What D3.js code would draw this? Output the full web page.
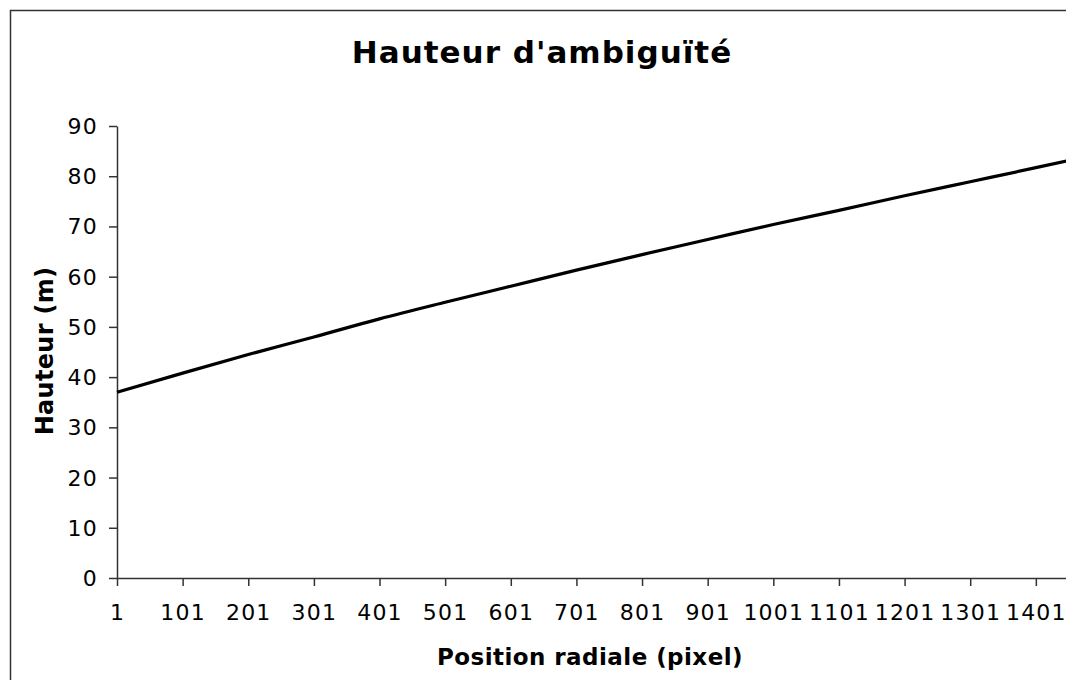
<!DOCTYPE html>
<html>
<head>
<meta charset="utf-8">
<script src="https://cdn.jsdelivr.net/npm/d3@7"></script>
<style>
  html, body { margin: 0; padding: 0; background: #fff; }
  svg { display: block; }
  text { font-family: "DejaVu Sans", Verdana, sans-serif; fill: #000; }
</style>
</head>
<body>
<svg id="chart" width="1066" height="680"></svg>
<script>
// Ambiguity height (m) against radial position (pixel)
const positions = [1, 101, 201, 301, 401, 501, 601, 701, 801, 901, 1001, 1101, 1201, 1301, 1401, 1450];
const heights   = [37.0, 40.8, 44.5, 48.0, 51.6, 54.9, 58.1, 61.3, 64.4, 67.4, 70.4, 73.2, 76.1, 78.9, 81.7, 83.1];
const xTicks = [1, 101, 201, 301, 401, 501, 601, 701, 801, 901, 1001, 1101, 1201, 1301, 1401];
const yTicks = [0, 10, 20, 30, 40, 50, 60, 70, 80, 90];

const titleText = "Hauteur d'ambiguïté";
const xTitle = "Position radiale (pixel)";
const yTitle = "Hauteur (m)";

const svg = d3.select("#chart");
const W = 1066, H = 680;

// chart frame
svg.append("rect")
  .attr("x", 10.5).attr("y", 10.5)
  .attr("width", W + 20).attr("height", H + 20)
  .attr("fill", "#fff")
  .attr("stroke", "#333").attr("stroke-width", 1.5);

const plot = { left: 117, right: 1068, top: 126, bottom: 578 };

const x = d3.scaleLinear().domain([1, 1450]).range([plot.left, plot.right]);
const y = d3.scaleLinear().domain([0, 90]).range([plot.bottom, plot.top]);

// y axis
const yAxis = svg.append("g")
  .attr("transform", `translate(${plot.left},0)`)
  .call(d3.axisLeft(y).tickValues(yTicks).tickSize(8).tickSizeOuter(0).tickPadding(11));
yAxis.selectAll("text")
  .style("font-size", "22px").style("letter-spacing", "1.2px")
  .attr("dy", "0.34em");

// x axis
const xAxis = svg.append("g")
  .attr("transform", `translate(0,${plot.bottom})`)
  .call(d3.axisBottom(x).tickValues(xTicks).tickFormat(d3.format("d")).tickSize(8).tickSizeOuter(0).tickPadding(18));
xAxis.selectAll("text")
  .style("font-size", "22px").style("letter-spacing", "1.2px");

svg.selectAll(".domain, .tick line")
  .attr("stroke", "#333").attr("stroke-width", 1.5);

// data line
const line = d3.line()
  .x((d, i) => x(positions[i]))
  .y(d => y(d))
  .curve(d3.curveMonotoneX);

svg.append("path")
  .datum(heights)
  .attr("d", line)
  .attr("fill", "none")
  .attr("stroke", "#000")
  .attr("stroke-width", 3.2);

// titles
svg.append("text")
  .attr("x", 542).attr("y", 63)
  .attr("text-anchor", "middle")
  .style("font-size", "31px").style("font-weight", "bold").style("letter-spacing", "1px")
  .text(titleText);

svg.append("text")
  .attr("x", 590).attr("y", 665)
  .attr("text-anchor", "middle")
  .style("font-size", "23px").style("font-weight", "bold").style("letter-spacing", "0.45px")
  .text(xTitle);

svg.append("text")
  .attr("transform", "translate(53,351) rotate(-90)")
  .attr("text-anchor", "middle")
  .style("font-size", "24px").style("font-weight", "bold").style("letter-spacing", "0.3px")
  .text(yTitle);
</script>
</body>
</html>
